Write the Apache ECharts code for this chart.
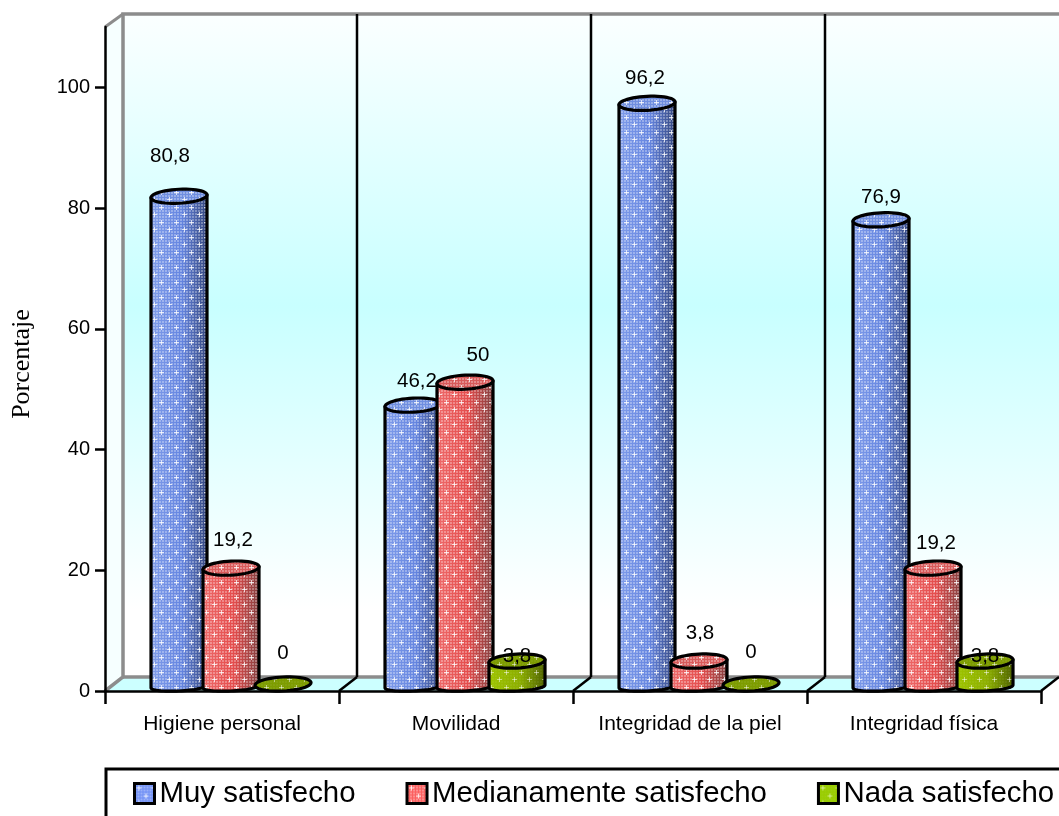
<!DOCTYPE html>
<html>
<head>
<meta charset="utf-8">
<title>Satisfacción por dimensión</title>
<style>html,body{margin:0;padding:0;background:#fff}#chart{width:1059px;height:816px}</style>
<script src="https://cdn.jsdelivr.net/npm/echarts@6/dist/echarts.min.js"></script>
</head>
<body>
<div id="chart"></div>
<script>
// Values per care dimension (percent)
const categories = ['Higiene personal', 'Movilidad', 'Integridad de la piel', 'Integridad física'];
const seriesNames = ['Muy satisfecho', 'Medianamente satisfecho', 'Nada satisfecho'];
const muySatisfecho = [80.8, 46.2, 96.2, 76.9];
const medianamenteSatisfecho = [19.2, 50, 3.8, 19.2];
const nadaSatisfecho = [0, 3.8, 0, 3.8];
const yTicks = [0, 20, 40, 60, 80, 100];

// Hand placement of each value label, relative to the top of its cylinder
const labelNudge = [
  [[-9, -39.5], [4, -23.5], [-2, -24.5], [0, -22.5]],
  [[2, -27.5], [13, -26.5], [1, -27.5], [3, -24.5]],
  [[0, -31], [0, -5], [0, -32], [0, -5]]
];

// Cylinder appearance
const palettes = [
  { left: '#7f9cea', mid: '#6585e0', right: '#34467e', top: '#6f8ee0', legend: '#6f8ff5', dots: 0.3, cross: 0.75 },
  { left: '#ee6a6a', mid: '#e44c4c', right: '#834040', top: '#d85a5a', legend: '#fb5f5f', dots: 0.3, cross: 0.75 },
  { left: '#9ec400', mid: '#8cae00', right: '#4f6300', top: '#7d9c00', legend: '#99cc00', dots: 0.05, cross: 0.5 }
];
const CYL_WIDTH = 56, CYL_STEP = 52, DEPTH_X = 18, DEPTH_Y = 14, TILT = 0.05;

// Fine woven dots plus scattered white crosses, tiled over the fills
function makeWeave(base, dotAlpha, crossAlpha) {
  const c = document.createElement('canvas');
  c.width = 15; c.height = 15;
  const g = c.getContext('2d');
  if (base) { g.fillStyle = base; g.fillRect(0, 0, 15, 15); }
  g.fillStyle = 'rgba(255,255,255,' + dotAlpha + ')';
  for (let y = 0; y < 15; y += 3) {
    for (let x = 0; x < 15; x += 3) g.fillRect(x, y, 2, 2);
  }
  [[4, 4], [11, 12]].forEach(function (p) {
    g.fillStyle = 'rgba(255,255,255,' + crossAlpha + ')';
    g.fillRect(p[0] - 2, p[1], 5, 1);
    g.fillRect(p[0], p[1] - 2, 1, 5);
  });
  return c;
}

function ellipsePoints(cx, cy, rx, ry, from, to, n) {
  const pts = [];
  for (let i = 0; i <= n; i++) {
    const a = from + (to - from) * i / n;
    const x = cx + rx * Math.cos(a);
    pts.push([x, cy + ry * Math.sin(a) - (x - cx) * TILT]);
  }
  return pts;
}

function renderCylinder(seriesIdx) {
  const pal = palettes[seriesIdx];
  const weave = { image: makeWeave(null, pal.dots, pal.cross), repeat: 'repeat' };
  return function (params, api) {
    const cat = api.value(0), val = api.value(1);
    const cx = api.coord([cat, val])[0] + (seriesIdx - 1) * CYL_STEP + DEPTH_X / 2;
    const topY = api.coord([cat, val])[1] - DEPTH_Y / 2;
    const floorY = api.coord([cat, 0])[1];
    const rx = CYL_WIDTH / 2, ry = DEPTH_Y / 2;
    const kids = [];
    if (val > 0) {
      const pts = [[cx - rx, topY + rx * TILT], [cx + rx, topY - rx * TILT]]
        .concat(ellipsePoints(cx, floorY - 4.5, rx, 4.5, 0, Math.PI, 32));
      kids.push({
        type: 'polygon', shape: { points: pts },
        style: { fill: { type: 'linear', x: 0, y: 0, x2: 1, y2: 0, colorStops: [
          { offset: 0, color: pal.left }, { offset: 0.55, color: pal.mid }, { offset: 1, color: pal.right }] } }
      });
      kids.push({ type: 'polygon', shape: { points: pts }, style: { fill: weave } });
      kids.push({ type: 'polygon', shape: { points: pts }, style: { fill: 'none', stroke: '#000', lineWidth: 3.2, lineJoin: 'round' } });
    }
    const rim = ellipsePoints(cx, topY, rx, ry, 0, Math.PI * 2, 48);
    kids.push({ type: 'polygon', shape: { points: rim }, style: { fill: pal.top } });
    kids.push({ type: 'polygon', shape: { points: rim }, style: { fill: weave, stroke: '#000', lineWidth: 3.2 } });
    const nudge = labelNudge[seriesIdx][cat];
    kids.push({
      type: 'text', z2: 50,
      style: {
        text: String(val).replace('.', ','),
        x: cx + nudge[0], y: topY + nudge[1],
        fill: '#000', font: '20.5px "Liberation Sans", Arial, sans-serif',
        textAlign: 'center', verticalAlign: 'middle'
      }
    });
    return { type: 'group', children: kids };
  };
}

// Back wall, side wall and floor of the box, derived from the plotting area
function renderFrame(params, api) {
  const b = params.coordSys;
  const x0 = b.x, y0 = b.y, x1 = b.x + b.width, y1 = b.y + b.height;
  const backX = x0 + DEPTH_X, backTop = y0 - 13, backBottom = y1 - DEPTH_Y, backRight = x1 + DEPTH_X;
  const band = b.width / categories.length;
  const wallFill = { type: 'linear', x: 0, y: 0, x2: 0, y2: 1, colorStops: [
    { offset: 0, color: '#fbffff' }, { offset: 0.44, color: '#c8ffff' }, { offset: 0.9, color: '#ffffff' }, { offset: 1, color: '#ffffff' }] };
  const grey = '#8c8c8c';
  const kids = [
    { type: 'rect', shape: { x: backX, y: backTop, width: backRight - backX, height: backBottom - backTop }, style: { fill: wallFill } },
    { type: 'polygon', shape: { points: [[x0, y0], [backX, backTop], [backX, backBottom], [x0, y1]] }, style: { fill: '#f6ffff' } },
    { type: 'polygon', shape: { points: [[x0, y1], [backX, backBottom], [backRight, backBottom], [x1, y1]] }, style: { fill: '#ccffff' } },
    { type: 'polyline', shape: { points: [[x0, y1], [backX, backBottom], [backX, backTop], [backRight, backTop]] }, style: { fill: 'none', stroke: grey, lineWidth: 3.5 } },
    { type: 'line', shape: { x1: x0, y1: y0, x2: backX, y2: backTop }, style: { stroke: grey, lineWidth: 3 } },
    { type: 'line', shape: { x1: backX, y1: backBottom, x2: backRight, y2: backBottom }, style: { stroke: grey, lineWidth: 3.5 } }
  ];
  for (let i = 1; i <= categories.length; i++) {
    const fx = x0 + band * i, bx = fx + DEPTH_X;
    if (i < categories.length) {
      kids.push({ type: 'line', shape: { x1: bx, y1: backTop, x2: bx, y2: backBottom }, style: { stroke: '#000', lineWidth: 2.5 } });
    }
    kids.push({ type: 'line', shape: { x1: fx, y1: y1, x2: bx, y2: backBottom }, style: { stroke: '#000', lineWidth: 2.5 } });
  }
  return { type: 'group', children: kids };
}

const allValues = [muySatisfecho, medianamenteSatisfecho, nadaSatisfecho];

const chart = echarts.init(document.getElementById('chart'), null, { renderer: 'canvas' });
chart.setOption({
  animation: false,
  backgroundColor: '#fff',
  grid: { left: 105, right: 18, top: 27, bottom: 125, containLabel: false },
  legend: {
    left: 106, top: 769, width: 1500,
    padding: [10, 200, 40, 27],
    orient: 'horizontal',
    itemWidth: 20, itemHeight: 20, itemGap: 50,
    borderColor: '#000', borderWidth: 3,
    textStyle: { fontFamily: '"Liberation Sans", Arial, sans-serif', fontSize: 29.4, color: '#000' },
    data: seriesNames.map(function (name, i) {
      return {
        name: name, icon: 'rect',
        itemStyle: { color: { image: makeWeave(palettes[i].legend, palettes[i].dots, palettes[i].cross), repeat: 'repeat' }, borderColor: '#000', borderWidth: 3 }
      };
    })
  },
  xAxis: {
    type: 'category',
    data: categories,
    axisLine: { lineStyle: { color: '#000', width: 2.5 } },
    axisTick: { show: true, interval: 0, length: 13, lineStyle: { color: '#000', width: 2.5 } },
    axisLabel: { interval: 0, margin: 23, color: '#000', fontSize: 21, fontFamily: '"Liberation Sans", Arial, sans-serif' },
    z: 1
  },
  yAxis: {
    type: 'value',
    min: 0, max: 110,
    name: 'Porcentaje',
    nameLocation: 'middle',
    nameGap: 70,
    nameTextStyle: { color: '#000', fontSize: 26, padding: [0, 10, 0, 0], fontFamily: '"Liberation Serif", "Times New Roman", serif' },
    axisLine: { show: true, lineStyle: { color: '#000', width: 2.5 } },
    axisTick: { show: true, length: 10, customValues: yTicks, lineStyle: { color: '#000', width: 2.5 } },
    axisLabel: { customValues: yTicks, margin: 15, color: '#000', fontSize: 20, fontFamily: '"Liberation Sans", Arial, sans-serif' },
    splitLine: { show: false },
    z: 1
  },
  series: [{
    type: 'custom', name: 'marco', silent: true, z: 0,
    renderItem: renderFrame, data: [[0, 0]]
  }].concat(seriesNames.map(function (name, i) {
    return {
      type: 'custom', name: name, z: 2,
      itemStyle: { color: palettes[i].legend },
      renderItem: renderCylinder(i),
      encode: { x: 0, y: 1 },
      data: allValues[i].map(function (v, c) { return [c, v]; })
    };
  }))
});
</script>
</body>
</html>
